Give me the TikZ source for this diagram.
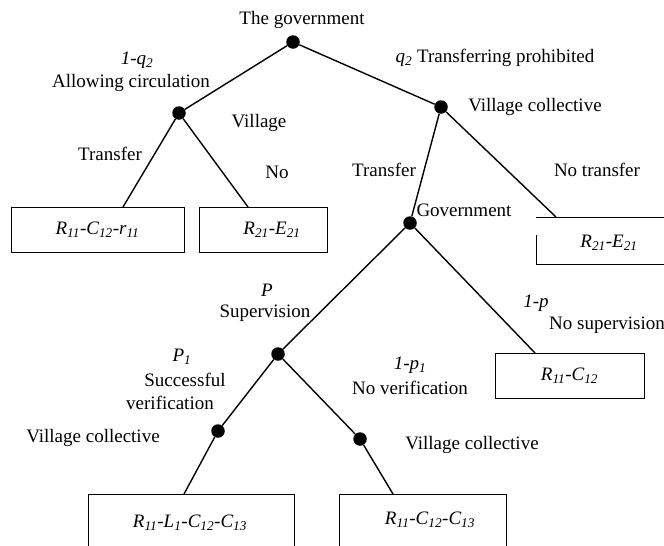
\documentclass[tikz,border=0pt]{standalone}
\usepackage{fontspec}
\setmainfont{Liberation Serif}
\begin{document}
\begin{tikzpicture}[x=1pt,y=-1pt,
  dot/.style={circle,fill=black,inner sep=0pt,minimum size=13.5pt},
  lbl/.style={inner sep=0pt,anchor=center,font=\fontsize{19}{22}\selectfont},
  ilbl/.style={lbl,font=\fontsize{19}{22}\selectfont\itshape},
  leaf/.style={draw,line width=1pt,inner sep=0pt,font=\fontsize{19}{22}\selectfont\itshape},
  edge/.style={line width=1.4pt}]
\useasboundingbox (0,0) rectangle (664,546);
\clip (0,0) rectangle (664,546);
% decision nodes
\node[dot] (root) at (293,42) {};
\node[dot] (nl) at (179,113) {};
\node[dot] (nr) at (441,107) {};
\node[dot] (gov) at (410,223) {};
\node[dot] (sup) at (278,354) {};
\node[dot] (vl) at (218,431) {};
\node[dot] (vr) at (360,439) {};
% leaves
\node[leaf,minimum width=173pt,minimum height=45pt] (b1) at (97.5,229.5) {R\textsubscript{11}-C\textsubscript{12}-r\textsubscript{11}};
\node[leaf,minimum width=128pt,minimum height=45pt] (b2) at (263,229.5) {\hspace*{18pt}R\textsubscript{21}-E\textsubscript{21}};
\node[leaf,draw=none,minimum width=134pt,minimum height=47pt] (b3) at (603,240.5) {};
\node[ilbl] (b3l) at (609,243) {R\textsubscript{21}-E\textsubscript{21}};
\draw[line width=1pt] (536,235) -- (536,264) -- (670,264);
\draw[line width=1pt] (536,217) -- (670,217);
\node[leaf,minimum width=149pt,minimum height=45pt] (b4) at (569.5,375.5) {R\textsubscript{11}-C\textsubscript{12}};
\node[leaf,minimum width=206pt,minimum height=70pt] (b5) at (191,529) {};
\node[ilbl] (b5l) at (190,523) {R\textsubscript{11}-L\textsubscript{1}-C\textsubscript{12}-C\textsubscript{13}};
\node[leaf,minimum width=167pt,minimum height=70pt] (b6) at (422.5,529) {};
\node[ilbl] (b6l) at (430,520) {R\textsubscript{11}-C\textsubscript{12}-C\textsubscript{13}};
% connector end points on box tops
\coordinate (b1t) at (123,207);
\coordinate (b2t) at (248,207);
\coordinate (b3t) at (556,217);
\coordinate (b4t) at (535,353);
\coordinate (b5t) at (184,494);
\coordinate (b6t) at (393,494);
% edges
\draw[edge] (root) -- (nl);
\draw[edge] (root) -- (nr);
\draw[edge] (nl) -- (b1t);
\draw[edge] (nl) -- (b2t);
\draw[edge] (nr) -- (gov);
\draw[edge] (nr) -- (b3t);
\draw[edge] (gov) -- (sup);
\draw[edge] (gov) -- (b4t);
\draw[edge] (sup) -- (vl);
\draw[edge] (vl) -- (b5t);
\draw[edge] (sup) -- (vr);
\draw[edge] (vr) -- (b6t);
% labels
\node[lbl] (t1) at (302,20) {The government};
\node[ilbl] (t2) at (137,60) {1-q\textsubscript{2}};
\node[lbl] (t3) at (131,83) {Allowing circulation};
\node[lbl] (t4) at (495,58) {\textit{q\textsubscript{2}} Transferring prohibited};
\node[lbl] (t5) at (535,107) {Village collective};
\node[lbl] (t6) at (259,123) {Village};
\node[lbl] (t7) at (110,154) {Transfer};
\node[lbl] (t8) at (277,172) {No};
\node[lbl] (t9) at (384,170) {Transfer};
\node[lbl] (t10) at (597,170) {No transfer};
\node[lbl] (t11) at (464,210) {Government};
\node[ilbl] (t12) at (267,290) {P};
\node[lbl] (t13) at (265,313) {Supervision};
\node[ilbl] (t14) at (536,303) {1-p};
\node[lbl,anchor=west] (t15) at (549,325) {No supervision};
\node[ilbl] (t16) at (182,357) {P\textsubscript{1}};
\node[lbl] (t17) at (185,380) {Successful};
\node[lbl] (t18) at (170,403) {verification};
\node[ilbl] (t19) at (410,365) {1-p\textsubscript{1}};
\node[lbl] (t20) at (410,388) {No verification};
\node[lbl] (t21) at (93,438) {Village collective};
\node[lbl] (t22) at (472,445) {Village collective};
\end{tikzpicture}
\end{document}
